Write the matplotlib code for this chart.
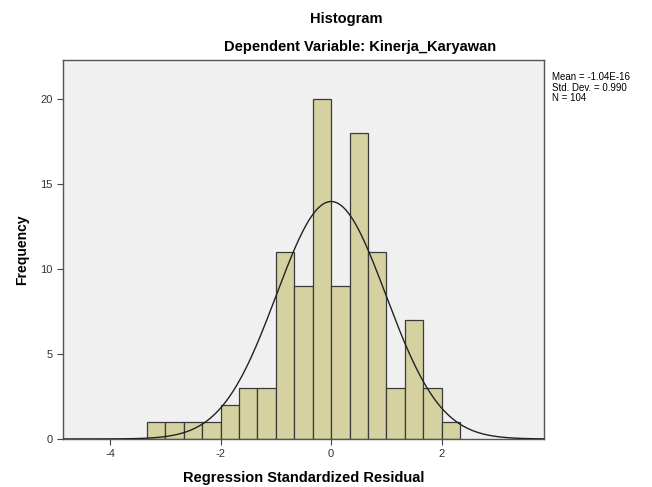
import numpy as np
import matplotlib.pyplot as plt

plt.rcParams['font.family'] = ['Liberation Sans', 'DejaVu Sans']
plt.rcParams['axes.unicode_minus'] = False

# histogram counts, bins of width 1/3 from -10/3 to 7/3
counts = [1, 1, 1, 1, 2, 3, 3, 11, 9, 20, 9, 18, 11, 3, 7, 3, 1]
edges = np.arange(-10, 8) / 3.0
mean_txt = "-1.04E-16"
sd = 0.990
n = 104
xticks = [-4, -2, 0, 2]
yticks = [0, 5, 10, 15, 20]

fig = plt.figure(figsize=(6.52, 4.87), dpi=100)
ax = fig.add_axes([0.0966, 0.0986, 0.7377, 0.7784])
ax.set_facecolor('#f0f0f0')

ax.bar(edges[:-1], counts, width=np.diff(edges), align='edge',
       color='#d6d1a0', edgecolor='#3a3a3a', linewidth=0.9, zorder=2)

xs = np.linspace(-4.85, 3.85, 400)
mean = 0.0
bw = 1 / 3.0
ys = n * bw * np.exp(-0.5 * ((xs - mean) / sd) ** 2) / (sd * np.sqrt(2 * np.pi))
ax.plot(xs, ys, color='#222222', linewidth=1.0, zorder=3)

ax.set_xlim(-4.85, 3.85)
ax.set_ylim(0, 22.3)
ax.set_xticks(xticks)
ax.set_yticks(yticks)
ax.tick_params(labelsize=8, labelcolor='#333333', color='#444444', length=4)
for s in ax.spines.values():
    s.set_color('#555555')
    s.set_linewidth(1.0)

ax.set_xlabel('Regression Standardized Residual', fontsize=10.5, fontweight='bold', labelpad=8)
ax.set_ylabel('Frequency', fontsize=10, fontweight='bold', labelpad=8)

fig.text(0.531, 0.962, 'Histogram', ha='center', va='center', fontsize=10.5, fontweight='bold')
fig.text(0.552, 0.903, 'Dependent Variable: Kinerja_Karyawan', ha='center', va='center',
         fontsize=10.5, fontweight='bold')
fig.text(0.846, 0.82, 'Mean = %s\nStd. Dev. = %.3f\nN = %d' % (mean_txt, sd, n),
         ha='left', va='center', fontsize=7, linespacing=1.05)

fig.savefig('out.png', dpi=100, facecolor='white')
